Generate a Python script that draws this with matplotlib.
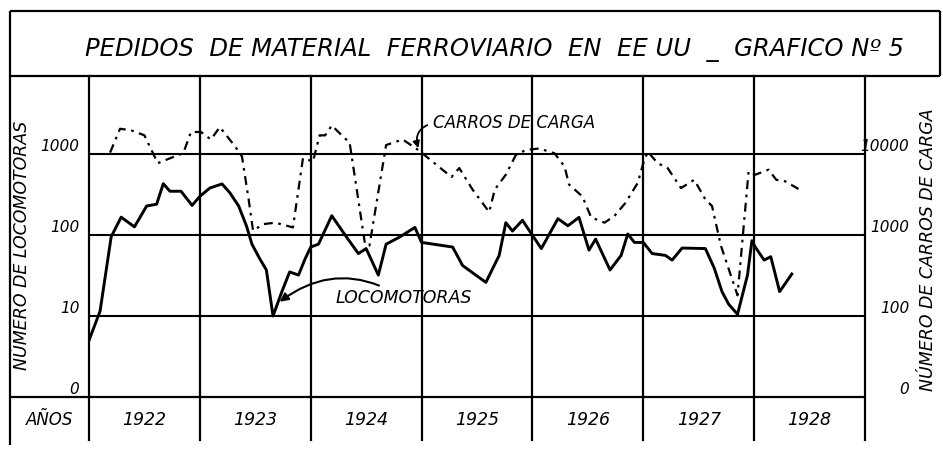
import matplotlib
matplotlib.use("Agg")
import matplotlib.pyplot as plt
from matplotlib.lines import Line2D
from matplotlib.transforms import blended_transform_factory

# ---- data (decimal years) ----
loco_t = [1922.00, 1922.10, 1922.20, 1922.29, 1922.41, 1922.52, 1922.61, 1922.67, 1922.73, 1922.83, 1922.93,
          1923.00, 1923.09, 1923.20, 1923.27, 1923.35, 1923.42, 1923.47, 1923.54, 1923.60, 1923.66, 1923.74,
          1923.81, 1923.89, 1923.95,
          1924.00, 1924.07, 1924.19, 1924.31, 1924.43, 1924.50, 1924.61, 1924.68, 1924.80, 1924.94,
          1925.00, 1925.28, 1925.37, 1925.58, 1925.70, 1925.76, 1925.82, 1925.91,
          1926.08, 1926.23, 1926.32, 1926.42, 1926.51, 1926.57, 1926.70, 1926.80, 1926.86, 1926.92,
          1927.00, 1927.08, 1927.20, 1927.26, 1927.35, 1927.56, 1927.64, 1927.71, 1927.77, 1927.85,
          1927.94, 1927.98,
          1928.01, 1928.09, 1928.15, 1928.23, 1928.34]
loco_v = [5, 11.5, 95, 166, 126, 228, 240, 430, 347, 347, 232,
          300, 380, 427, 333, 228, 130, 77, 51, 37, 10, 20,
          35, 32, 51,
          71, 77, 173, 100, 59, 68, 32, 77, 94, 124,
          81, 71, 42, 26, 56, 142, 112, 152,
          68, 159, 130, 165, 65, 89, 37, 56, 103, 81,
          81, 59, 56, 49, 69, 68, 39, 20, 14, 10.5,
          32, 85,
          71, 49, 54, 20, 33]

carros_t = [1922.19, 1922.28, 1922.38, 1922.50, 1922.62, 1922.73, 1922.85, 1922.92,
            1923.01, 1923.10, 1923.18, 1923.32, 1923.38, 1923.44, 1923.48, 1923.57, 1923.68, 1923.84,
            1923.93, 1923.98,
            1924.02, 1924.08, 1924.13, 1924.19, 1924.31, 1924.35, 1924.49, 1924.53, 1924.68, 1924.83,
            1924.97,
            1925.27, 1925.34, 1925.46, 1925.61, 1925.66, 1925.76, 1925.85, 1925.94,
            1926.06, 1926.20, 1926.29, 1926.33, 1926.45, 1926.53, 1926.65, 1926.74, 1926.84, 1926.95,
            1927.00, 1927.04, 1927.13, 1927.22, 1927.34, 1927.46, 1927.56, 1927.62, 1927.70, 1927.85,
            1927.95,
            1928.01, 1928.13, 1928.20, 1928.28, 1928.40]
carros_v = [10400, 20500, 19600, 17000, 7700, 8850, 10200, 18700,
            18700, 15100, 21500, 12300, 9300, 2750, 1130, 1360, 1420, 1240,
            8850, 8450,
            8050, 17000, 17000, 22500, 15500, 14100, 770, 740, 12900, 15100,
            11200,
            5200, 6700, 3640, 1920, 3640, 5550, 9700, 11200,
            11700, 10200, 7000, 4200, 3000, 1650, 1420, 1720, 2500, 4400,
            7700, 10700, 7700, 6700, 3800, 4800, 2750, 2280, 740, 180,
            6100,
            5550, 6400, 4800, 4600, 3700]

years = [1922, 1923, 1924, 1925, 1926, 1927, 1928]
left_ticks = [1, 10, 100, 1000]
left_labels = ["0", "10", "100", "1000"]
right_ticks = [10, 100, 1000, 10000]
right_labels = ["0", "100", "1000", "10000"]

W, H = 943, 449
plt.rcParams["font.family"] = ["DejaVu Sans"]
plt.rcParams["font.style"] = "italic"

fig = plt.figure(figsize=(W / 100, H / 100), dpi=100)
fig.patch.set_facecolor("white")


def fx(px):
    return px / W


def fy(py):
    return 1 - py / H


def seg(x0, y0, x1, y1, lw=1.6):
    fig.add_artist(Line2D([fx(x0), fx(x1)], [fy(y0), fy(y1)], transform=fig.transFigure,
                          color="black", lw=lw, solid_capstyle="butt"))


# plot area in pixels
PL, PR, PT, PB = 89, 865, 76, 397
ax = fig.add_axes([fx(PL), fy(PB), fx(PR) - fx(PL), fy(PT) - fy(PB)])
ax.set_xlim(1922, 1929)
ymax = 10 ** ((PB - PT) / 81.0)
ax.set_yscale("log")
ax.set_ylim(1, ymax)
for s in ax.spines.values():
    s.set_visible(False)
ax.set_xticks([])
ax.set_yticks(left_ticks)
ax.set_yticklabels(left_labels, fontsize=11, fontstyle="italic")
ax.yaxis.set_minor_locator(matplotlib.ticker.NullLocator())
ax.tick_params(axis="y", length=0, pad=7)
for lab in ax.get_yticklabels():
    lab.set_verticalalignment("bottom")

for v in left_ticks[1:]:
    ax.axhline(v, color="black", lw=1.5, zorder=1)

# year boundaries, running down through the years row
ext = (440 - PB) / (PB - PT)
for yr in years + [1929]:
    ax.axvline(yr, ymin=-ext, ymax=1, color="black", lw=1.6, clip_on=False, zorder=1)

ax.plot(loco_t, loco_v, color="black", lw=2.1, zorder=3)

ax2 = ax.twinx()
ax2.set_yscale("log")
ax2.set_ylim(10, ymax * 10)
for s in ax2.spines.values():
    s.set_visible(False)
ax2.set_yticks(right_ticks)
ax2.set_yticklabels(right_labels, fontsize=11, fontstyle="italic")
ax2.yaxis.set_minor_locator(matplotlib.ticker.NullLocator())
ax2.tick_params(axis="y", length=0, pad=32)
for lab in ax2.get_yticklabels():
    lab.set_horizontalalignment("right")
    lab.set_verticalalignment("bottom")
ax2.plot(carros_t, carros_v, color="black", lw=1.6, linestyle=(0, (4, 2.5, 1.2, 2.5)), zorder=3)

# annotations
ax2.annotate("CARROS DE CARGA", xy=(1924.97, 11800), xytext=(1925.1, 24000),
             fontsize=12, fontstyle="italic", va="center", ha="left",
             arrowprops=dict(arrowstyle="-|>", color="black", lw=1.3, mutation_scale=10,
                             relpos=(0, 0.5), connectionstyle="arc3,rad=0.5",
                             shrinkA=2, shrinkB=0))
ax.annotate("LOCOMOTORAS", xy=(1923.72, 15), xytext=(1924.22, 16.5),
            fontsize=12.5, fontstyle="italic", va="center", ha="left",
            arrowprops=dict(arrowstyle="-|>", color="black", lw=1.5,
                            connectionstyle="arc3,rad=0.35", shrinkA=2, shrinkB=0))

# years row
trans = blended_transform_factory(ax.transData, fig.transFigure)
for yr in years:
    ax.text(yr + 0.5, fy(420), str(yr), transform=trans, ha="center", va="center",
            fontsize=12.5, fontstyle="italic")
fig.text(fx(50), fy(420), "AÑOS", ha="center", va="center", fontsize=12, fontstyle="italic")

# frame and title box
seg(10, 11, 940, 11)
seg(10, PT, 940, PT)
seg(10, 11, 10, 445)
seg(940, 11, 940, PT)
seg(10, PB, PR, PB)
fig.text(fx(494), fy(50), "PEDIDOS  DE MATERIAL  FERROVIARIO  EN  EE UU  _  GRAFICO Nº 5",
         ha="center", va="center", fontsize=17.5, fontstyle="italic")

fig.text(fx(22), fy(245), "NÚMERO DE LOCOMOTORAS", rotation=90, ha="center", va="center",
         fontsize=12.5, fontstyle="italic")
fig.text(fx(928), fy(250), "NÚMERO DE CARROS DE CARGA", rotation=90, ha="center", va="center",
         fontsize=12.5, fontstyle="italic")

fig.savefig("out.png", dpi=100, facecolor="white")
